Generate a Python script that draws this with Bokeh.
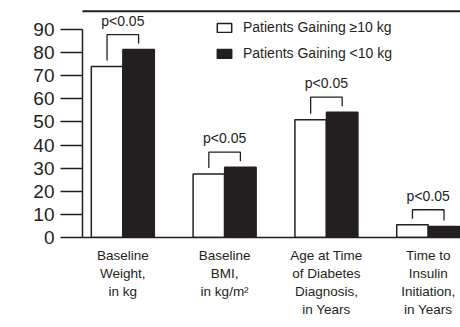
from bokeh.plotting import figure
from bokeh.models import (Range1d, FixedTicker, LinearAxis, Legend, LegendItem,
                          BoxAnnotation, Span)
from bokeh.core.properties import value
from bokeh.embed import file_html
from bokeh.resources import INLINE

# ---- data ----
categories = ["Baseline\nWeight,\nin kg",
              "Baseline\nBMI,\nin kg/m\u00b2",
              "Age at Time\nof Diabetes\nDiagnosis,\nin Years",
              "Time to\nInsulin\nInitiation,\nin Years"]
gain_ge10 = [74.0, 27.5, 51.0, 5.5]
gain_lt10 = [81.3, 30.4, 54.2, 4.8]
series_names = ["Patients Gaining \u226510 kg", "Patients Gaining <10 kg"]
p_labels = ["p<0.05", "p<0.05", "p<0.05", "p<0.05"]
y_ticks = [0, 10, 20, 30, 40, 50, 60, 70, 80, 90]

FONT = "Liberation Sans"
INK = "#231f20"

idx = list(range(len(categories)))
off = 0.155
bw = 0.309

p = figure(width=460, height=327, output_backend="svg", toolbar_location=None,
           x_range=Range1d(-0.396, 3.317), y_range=Range1d(0, 102.55),
           x_axis_location=None, y_axis_location=None,
           min_border_left=82, min_border_right=0, min_border_top=0,
           min_border_bottom=90)
p.outline_line_color = None
p.xgrid.visible = False
p.ygrid.visible = False
p.background_fill_color = None
p.border_fill_color = None

r1 = p.vbar(x=[i - off for i in idx], top=gain_ge10, width=bw, bottom=0,
            fill_color="white", line_color=INK, line_width=1.5)
r2 = p.vbar(x=[i + off for i in idx], top=gain_lt10, width=bw, bottom=0,
            fill_color=INK, line_color=INK, line_width=1.5)

# significance brackets
xs, ys, tx, ty = [], [], [], []
for i, (a, b) in enumerate(zip(gain_ge10, gain_lt10)):
    top = max(a, b) + 6.5
    xs.append([i - off, i - off, i + off, i + off])
    ys.append([a + 2.6, top, top, b + 2.6])
    tx.append(i)
    ty.append(top + 6.0)
p.multi_line(xs=xs, ys=ys, line_color=INK, line_width=1.3)
p.text(x=tx, y=ty, text=p_labels, text_align="center", text_baseline="middle",
       text_font=value(FONT), text_font_size="14px", text_color=INK)

# axes
yax = LinearAxis(ticker=FixedTicker(ticks=y_ticks), bounds=(0, 90))
yax.axis_line_color = INK
yax.axis_line_width = 1.5
yax.major_tick_line_color = INK
yax.major_tick_line_width = 1.5
yax.major_tick_out = 22
yax.major_tick_in = 0
yax.minor_tick_line_color = None
yax.major_label_standoff = 6
yax.major_label_text_font = FONT
yax.major_label_text_font_size = "19px"
yax.major_label_text_color = INK
p.add_layout(yax, "left")

xax = LinearAxis(ticker=FixedTicker(ticks=idx),
                 major_label_overrides={i: c for i, c in zip(idx, categories)})
xax.axis_line_color = INK
xax.axis_line_width = 1.5
xax.major_tick_line_color = None
xax.minor_tick_line_color = None
xax.major_label_standoff = 4
xax.major_label_text_font = FONT
xax.major_label_text_font_size = "13.5px"
xax.major_label_text_line_height = 1.2
xax.major_label_text_color = INK
p.add_layout(xax, "below")

legend = Legend(items=[LegendItem(label=series_names[0], renderers=[r1]),
                       LegendItem(label=series_names[1], renderers=[r2])],
                location=(133, 174), orientation="vertical")
legend.border_line_color = None
legend.background_fill_color = None
legend.background_fill_alpha = 0
legend.padding = 0
legend.margin = 0
legend.spacing = 6
legend.glyph_width = 18
legend.glyph_height = 11
legend.label_height = 20
legend.label_standoff = 10
legend.label_text_font = FONT
legend.label_text_font_size = "14px"
legend.label_text_color = INK
p.add_layout(legend)

# header rule across the top of the page
p.add_layout(Span(location=97.9, dimension="width", line_color=INK,
                  line_width=1.7))
rule = BoxAnnotation(left=7, right=460, top=10, bottom=11.7,
                     left_units="canvas", right_units="canvas",
                     top_units="canvas", bottom_units="canvas",
                     fill_color=INK, fill_alpha=1.0, line_color=None)
p.add_layout(rule)

open("out.html", "w").write(file_html(p, INLINE))
